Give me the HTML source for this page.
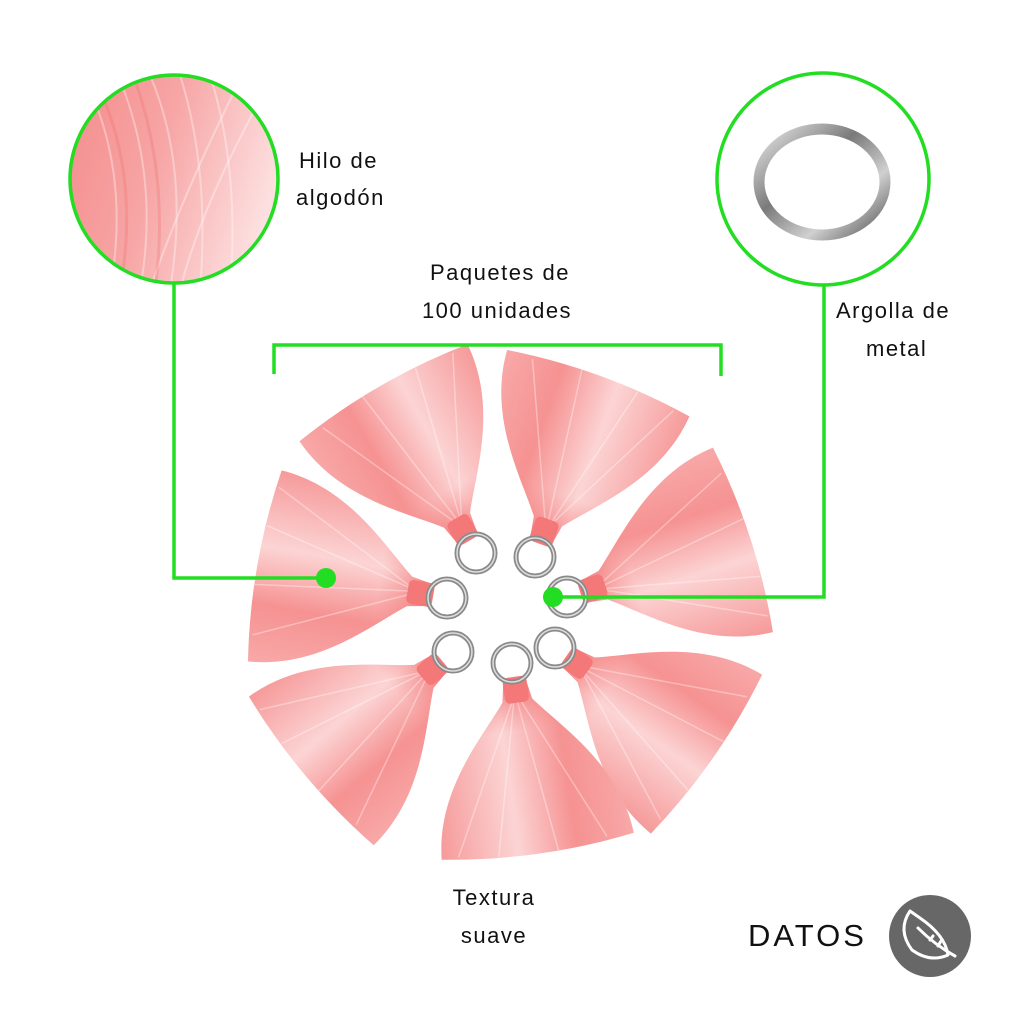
<!DOCTYPE html>
<html><head><meta charset="utf-8"><style>
html,body{margin:0;padding:0;background:#fff;}
svg{display:block}
text{font-family:"Liberation Sans",sans-serif;fill:#111;}
</style></head><body>
<svg width="1024" height="1024" viewBox="0 0 1024 1024" xmlns="http://www.w3.org/2000/svg">
<defs>
 <linearGradient id="tg" x1="0" y1="0" x2="1" y2="0">
  <stop offset="0" stop-color="#f8a8a8"/>
  <stop offset="0.3" stop-color="#f69292"/>
  <stop offset="0.6" stop-color="#fcd4d4"/>
  <stop offset="1" stop-color="#f69a9a"/>
 </linearGradient>
 <linearGradient id="tg2" x1="0" y1="1" x2="0" y2="0">
  <stop offset="0" stop-color="#f26e6e" stop-opacity="0.9"/>
  <stop offset="0.3" stop-color="#f58a8a" stop-opacity="0"/>
 </linearGradient>
 <linearGradient id="hg" x1="0" y1="0" x2="1" y2="0.3">
  <stop offset="0" stop-color="#f48a8a"/>
  <stop offset="0.5" stop-color="#f7a5a5"/>
  <stop offset="1" stop-color="#fde0e0"/>
 </linearGradient>
 <linearGradient id="mg" x1="0" y1="0" x2="1" y2="1">
  <stop offset="0" stop-color="#e8e8e8"/>
  <stop offset="0.4" stop-color="#7a7a7a"/>
  <stop offset="0.7" stop-color="#d0d0d0"/>
  <stop offset="1" stop-color="#555"/>
 </linearGradient>
 <g id="tas">
  <path d="M-11,-16 L11,-16 L15,-38 C40,-70 92,-115 97,-185 Q0,-200 -97,-185 C-92,-115 -40,-70 -15,-38 Z" fill="url(#tg)"/>
  <path d="M-11,-16 L11,-16 L15,-38 C40,-70 92,-115 97,-185 Q0,-200 -97,-185 C-92,-115 -40,-70 -15,-38 Z" fill="url(#tg2)"/>
  <g stroke="#fff" stroke-opacity="0.35" stroke-width="1.5">
   <line x1="-4" y1="-40" x2="-70" y2="-185"/><line x1="0" y1="-40" x2="-20" y2="-192"/>
   <line x1="4" y1="-40" x2="40" y2="-190"/><line x1="6" y1="-40" x2="80" y2="-185"/>
  </g>
  <rect x="-12" y="-40" width="24" height="26" rx="5" fill="#f47878"/>
 </g>
 <clipPath id="lc"><circle cx="174" cy="179" r="104"/></clipPath>
</defs>

<g clip-path="url(#lc)">
 <rect x="60" y="70" width="230" height="220" fill="url(#hg)"/>
 <g stroke="#fff" stroke-opacity="0.35" stroke-width="2" fill="none">
  <path d="M90,90 Q130,180 110,290"/><path d="M120,80 Q160,180 140,290"/>
  <path d="M150,75 Q190,170 170,290"/><path d="M180,75 Q210,170 200,290"/>
  <path d="M210,75 Q240,170 230,290"/><path d="M240,80 Q180,200 150,290"/>
  <path d="M260,100 Q200,210 180,290"/>
 </g>
 <g stroke="#ee6f6f" stroke-opacity="0.3" stroke-width="3" fill="none">
  <path d="M100,90 Q140,180 120,290"/><path d="M135,80 Q170,180 155,290"/>
 </g>
</g>
<circle cx="174" cy="179" r="104" fill="none" stroke="#22dd22" stroke-width="3.5"/>

<circle cx="823" cy="179" r="106" fill="none" stroke="#22dd22" stroke-width="3.5"/>
<ellipse cx="822" cy="182" rx="63" ry="53" fill="none" stroke="url(#mg)" stroke-width="11"/>

<g transform="translate(476,553) rotate(-30)"><use href="#tas"/></g>
<g transform="translate(535,557) rotate(20)"><use href="#tas"/></g>
<g transform="translate(567,597) rotate(72)"><use href="#tas"/></g>
<g transform="translate(555,648) rotate(125)"><use href="#tas"/></g>
<g transform="translate(512,663) rotate(172)"><use href="#tas"/></g>
<g transform="translate(453,652) rotate(-130)"><use href="#tas"/></g>
<g transform="translate(447,598) rotate(-80)"><use href="#tas"/></g>

<g fill="none" stroke="#8a8a8a" stroke-width="5">
 <circle cx="476" cy="553" r="19"/><circle cx="535" cy="557" r="19"/>
 <circle cx="447" cy="598" r="19"/><circle cx="567" cy="597" r="19"/>
 <circle cx="453" cy="652" r="19"/><circle cx="512" cy="663" r="19"/>
 <circle cx="555" cy="648" r="19"/>
</g>
<g fill="none" stroke="#ddd" stroke-width="1.5">
 <circle cx="476" cy="553" r="19"/><circle cx="535" cy="557" r="19"/>
 <circle cx="447" cy="598" r="19"/><circle cx="567" cy="597" r="19"/>
 <circle cx="453" cy="652" r="19"/><circle cx="512" cy="663" r="19"/>
 <circle cx="555" cy="648" r="19"/>
</g>

<g stroke="#22dd22" stroke-width="3.5" fill="none">
 <polyline points="174,283 174,578 326,578"/>
 <polyline points="824,285 824,597 553,597"/>
 <polyline points="274,374 274,345 721,345 721,376"/>
</g>
<circle cx="326" cy="578" r="10" fill="#22dd22"/>
<circle cx="553" cy="597" r="10" fill="#22dd22"/>

<g font-size="22" letter-spacing="1.5">
 <text x="299" y="168">Hilo de</text>
 <text x="296" y="205">algodón</text>
 <text x="500" y="280" text-anchor="middle">Paquetes de</text>
 <text x="497" y="318" text-anchor="middle">100 unidades</text>
 <text x="836" y="318">Argolla de</text>
 <text x="866" y="356">metal</text>
 <text x="494" y="905" text-anchor="middle">Textura</text>
 <text x="494" y="943" text-anchor="middle">suave</text>
</g>
<text x="748" y="946" font-size="31" letter-spacing="3">DATOS</text>

<circle cx="930" cy="936" r="41" fill="#676767"/>
<g fill="none" stroke="#fff" stroke-width="3" stroke-linecap="round" stroke-linejoin="round">
 <path d="M910,911 Q897,930 912,950 Q930,963 948,955 Q945,935 920,918 Z"/>
 <path d="M918,928 Q935,945 955,956"/>
 <path d="M930,940 l3,-4 M938,946 l3,-5"/>
</g>
</svg>
</body></html>
